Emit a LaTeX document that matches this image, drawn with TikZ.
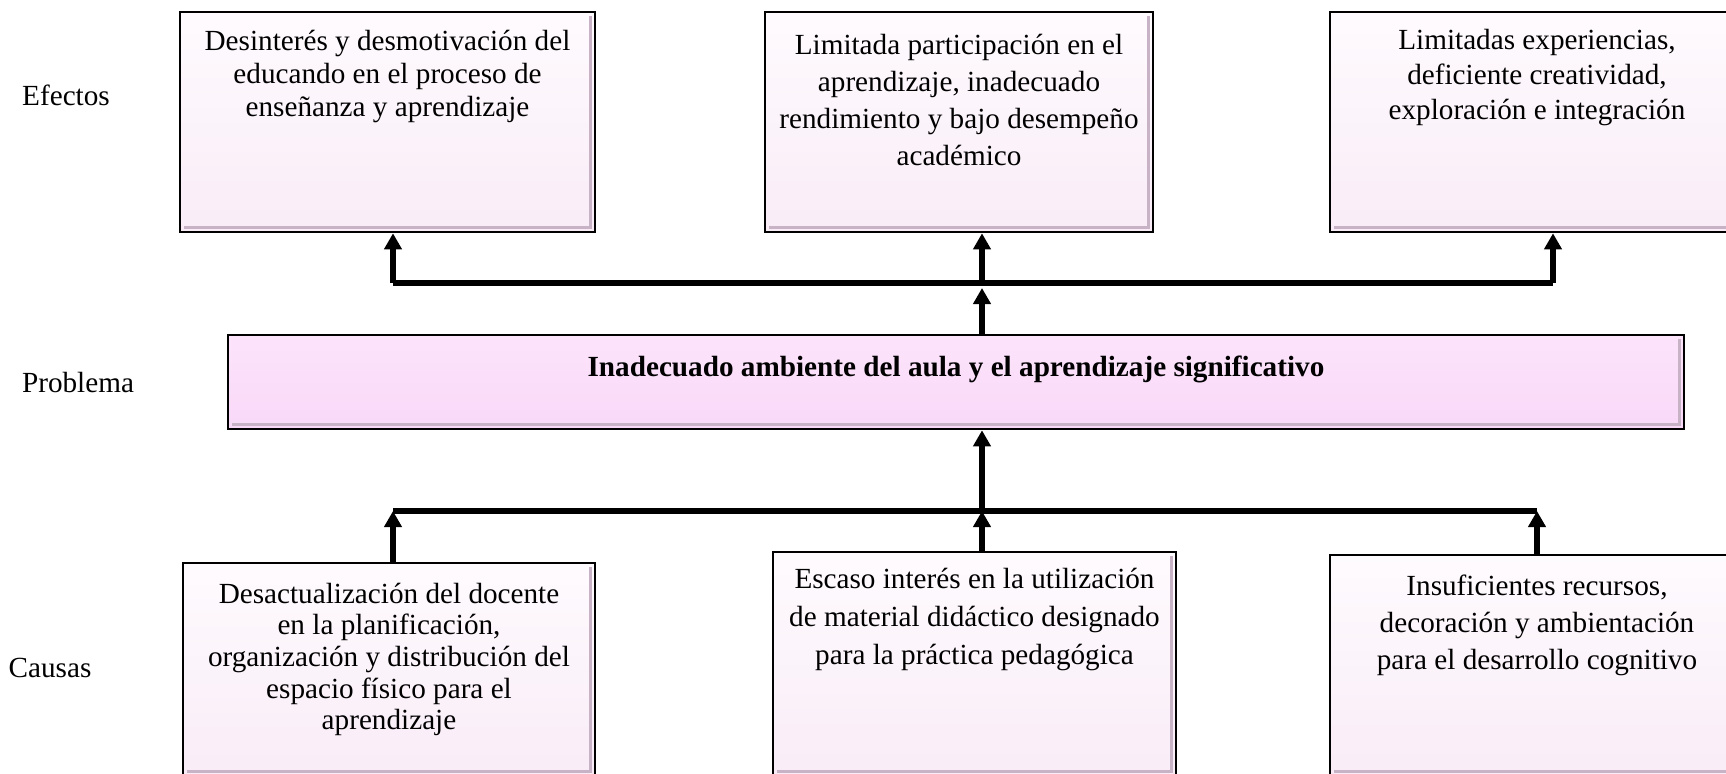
\documentclass[tikz,border=0pt]{standalone}
\usepackage{fontspec}
\setmainfont{Liberation Serif}
\usetikzlibrary{arrows.meta}

\definecolor{boxtop}{RGB}{254,251,254}
\definecolor{boxbottom}{RGB}{249,236,247}
\definecolor{probtop}{RGB}{252,228,251}
\definecolor{probbottom}{RGB}{249,216,248}
\definecolor{bevelgray}{RGB}{200,178,198}

\newcommand{\boxtext}[4]{\parbox[c][#2][t]{#1}{\centering\vspace*{#3}#4}}

\begin{document}
\begin{tikzpicture}[
    x=0.5pt, y=-0.5pt,
    bevel/.style={path picture={
        \draw[bevelgray, line width=1.6pt]
          ([shift={(2.2pt,2.2pt)}]path picture bounding box.south west)
          -- ([shift={(-2.2pt,2.2pt)}]path picture bounding box.south east)
          -- ([shift={(-2.2pt,-2.2pt)}]path picture bounding box.north east);}},
    box/.style={rectangle, draw=black, line width=1.3pt, inner sep=0pt, top color=boxtop, bottom color=boxbottom, bevel},
    problem/.style={rectangle, draw=black, line width=1.3pt, inner sep=0pt, top color=probtop, bottom color=probbottom, bevel, font=\fontsize{14.6}{15.8}\selectfont\bfseries},
    side/.style={font=\fontsize{14.6}{15.8}\selectfont},
    bus/.style={line width=2.6pt},
    arrow/.style={-{Triangle[width=8.5pt,length=8pt]}, line width=3pt}
]
\clip (0,0) rectangle (1726,773);

% Row labels
\node (lefectos) [side] at (66,95) {Efectos};
\node (lproblema) [side] at (78,383) {Problema};
\node (lcausas) [side] at (50,668) {Causas};

% Effects
\node (e1) [box, font=\fontsize{14.6}{16.5}\selectfont] at (387.5,122) {\boxtext{207.5pt}{110pt}{9pt}{Desinterés y desmotivación del\\ educando en el proceso de\\ enseñanza y aprendizaje}};
\node (e2) [box, font=\fontsize{14.6}{18.5}\selectfont] at (959,122) {\boxtext{194pt}{110pt}{11pt}{Limitada participación en el\\ aprendizaje, inadecuado\\ rendimiento y bajo desempeño\\ académico}};
\node (e3) [box, font=\fontsize{14.6}{17.5}\selectfont] at (1537,122) {\boxtext{207pt}{110pt}{8.5pt}{Limitadas experiencias,\\ deficiente creatividad,\\ exploración e integración}};

% Problem
\node (prob) [problem] at (956,382) {\parbox[c][47pt][t]{728pt}{\centering\vspace*{10.5pt}Inadecuado ambiente del aula y el aprendizaje significativo}};

% Causes
\node (c1) [box, font=\fontsize{14.6}{15.8}\selectfont] at (389,669.5) {\boxtext{206pt}{106.5pt}{10pt}{Desactualización del docente\\ en la planificación,\\ organización y distribución del\\ espacio físico para el\\ aprendizaje}};
\node (c2) [box, font=\fontsize{14.6}{19}\selectfont] at (974.5,664) {\boxtext{201.5pt}{112pt}{8pt}{Escaso interés en la utilización\\ de material didáctico designado\\ para la práctica pedagógica}};
\node (c3) [box, font=\fontsize{14.6}{18.5}\selectfont] at (1537,665.5) {\boxtext{207pt}{110.5pt}{10pt}{Insuficientes recursos,\\ decoración y ambientación\\ para el desarrollo cognitivo}};

% Bus points
\coordinate (eL) at (393,283);
\coordinate (eM) at (982,283);
\coordinate (eR) at (1553,283);
\coordinate (cL) at (393,511);
\coordinate (cM) at (982,511);
\coordinate (cR) at (1537,511);

% Arrows
\draw[bus] (eL) -- (eR);
\draw[arrow] (eL) -- (eL |- e1.south);
\draw[arrow] (eM) -- (eM |- e2.south);
\draw[arrow] (eR) -- (eR |- e3.south);
\draw[arrow, shorten >=2.5pt] (eM |- prob.north) -- (eM);

\draw[bus] (cL) -- (cR);
\draw[arrow] (cL |- c1.north) -- (cL);
\draw[arrow] (cM |- c2.north) -- (cM);
\draw[arrow] (cR |- c3.north) -- (cR);
\draw[arrow] (cM) -- (cM |- prob.south);

\end{tikzpicture}
\end{document}
